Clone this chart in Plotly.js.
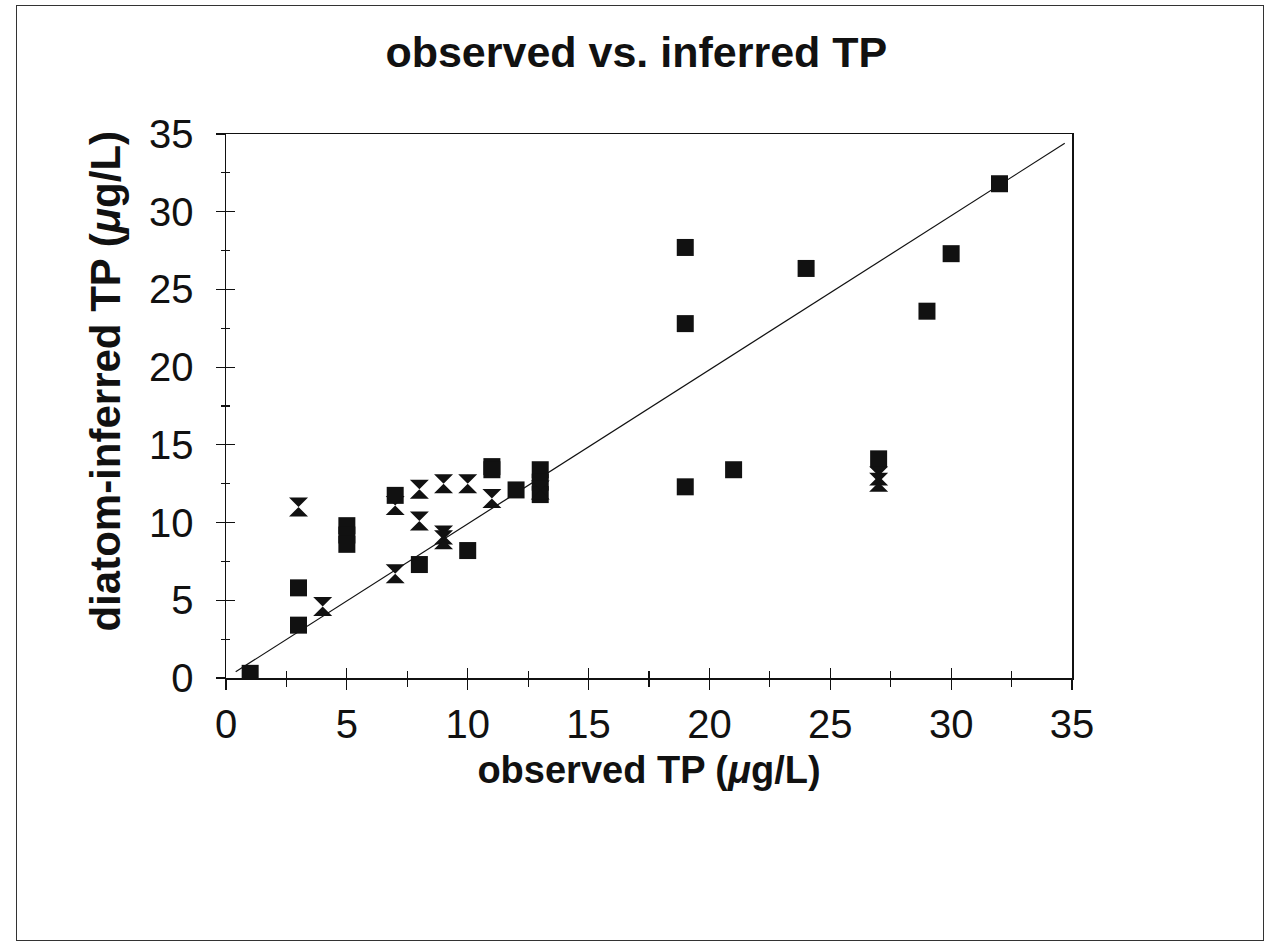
<!DOCTYPE html>
<html>
<head>
<meta charset="utf-8">
<script src="https://cdn.plot.ly/plotly-3.0.1.min.js"></script>
<style>
  html, body { margin: 0; padding: 0; background: #fff; }
  #wrap { position: relative; width: 1267px; height: 944px; }
  #chart { position: absolute; left: 0; top: 0; width: 1267px; height: 944px; }
  #frame { position: absolute; left: 16px; top: 5px; width: 1246px; height: 934px;
           border: 1.5px solid #333; pointer-events: none; }
</style>
</head>
<body>
<div id="wrap">
  <div id="chart"></div>
  <div id="frame"></div>
</div>
<script>
// Observed vs. diatom-inferred TP (µg/L)
const squareObserved = [1, 3, 3, 5, 5, 5, 7, 8, 10, 11, 11, 12, 13, 13, 13, 19, 19, 19, 21, 24, 27, 29, 30, 32];
const squareInferred = [0.3, 5.8, 3.4, 9.8, 9.2, 8.6, 11.75, 7.3, 8.2, 13.6, 13.4, 12.1, 13.4, 12.6, 11.8, 27.7, 22.8, 12.3, 13.4, 26.35, 14.1, 23.6, 27.3, 31.8];

const hourglassObserved = [3, 4, 7, 7, 8, 8, 9, 9, 9, 10, 11, 13, 27, 27];
const hourglassInferred = [11.0, 4.6, 11.1, 6.7, 12.15, 10.1, 12.5, 9.2, 8.9, 12.5, 11.55, 12.1, 13.0, 12.6];

const lineObserved = [0.4, 34.7];
const lineInferred = [0.4, 34.4];

const axisTicks = [0, 5, 10, 15, 20, 25, 30, 35];
const minorTicks = [2.5, 7.5, 12.5, 17.5, 22.5, 27.5, 32.5];

const titleText = 'observed vs. inferred TP';
const xTitleText = 'observed TP (<i>μ</i>g/L)';
const yTitleText = 'diatom-inferred TP (<i>μ</i>g/L)';

const FONT = 'Liberation Sans, Arial, sans-serif';
const INK = '#111111';

const traces = [
  {
    x: lineObserved, y: lineInferred, type: 'scatter', mode: 'lines',
    line: { color: INK, width: 1.2 }, hoverinfo: 'skip', showlegend: false
  },
  {
    x: squareObserved, y: squareInferred, type: 'scatter', mode: 'markers',
    marker: { symbol: 'square', size: 17, color: INK, line: { width: 0 } },
    showlegend: false
  },
  {
    x: hourglassObserved, y: hourglassInferred, type: 'scatter', mode: 'markers',
    marker: { symbol: 'hourglass', size: 19, color: INK, line: { width: 0 } },
    showlegend: false
  },
  {
    x: [], y: [], xaxis: 'x2', yaxis: 'y2', type: 'scatter', mode: 'markers',
    hoverinfo: 'skip', showlegend: false
  }
];

const baseAxis = {
  range: [0, 35], autorange: false, tickmode: 'array', tickvals: axisTicks,
  showgrid: false, zeroline: false
};

const layout = {
  width: 1267, height: 944,
  paper_bgcolor: '#ffffff', plot_bgcolor: '#ffffff',
  margin: { l: 226, r: 195, t: 134, b: 266 },
  font: { family: FONT, color: INK },
  title: {
    text: titleText, font: { family: FONT, size: 43, weight: 'bold', color: INK },
    x: 0.485, xref: 'paper', xanchor: 'center', y: 0.945, yref: 'container', yanchor: 'middle'
  },
  xaxis: Object.assign({}, baseAxis, {
    ticks: 'outside', ticklen: 10, tickwidth: 1.2, tickcolor: INK,
    minor: { tickmode: 'array', tickvals: minorTicks, ticks: 'outside', ticklen: 7, tickwidth: 1.2, tickcolor: INK },
    showline: true, linecolor: INK, linewidth: 1.5, mirror: true,
    tickfont: { family: FONT, size: 40, color: INK }, ticklabelstandoff: 0,
    title: { text: xTitleText, font: { family: FONT, size: 38, weight: 'bold', color: INK }, standoff: 12 }
  }),
  yaxis: Object.assign({}, baseAxis, {
    ticks: 'outside', ticklen: 9, tickwidth: 1.2, tickcolor: INK,
    minor: { tickmode: 'array', tickvals: minorTicks, ticks: 'outside', ticklen: 4, tickwidth: 1.2, tickcolor: INK },
    showline: true, linecolor: INK, linewidth: 1.5, mirror: true,
    tickfont: { family: FONT, size: 40, color: INK }, ticklabelstandoff: 14
  }),
  xaxis2: Object.assign({}, baseAxis, {
    overlaying: 'x', anchor: 'y', side: 'bottom',
    ticks: 'inside', ticklen: 10, tickwidth: 1.2, tickcolor: INK,
    minor: { tickmode: 'array', tickvals: minorTicks, ticks: 'inside', ticklen: 7, tickwidth: 1.2, tickcolor: INK },
    showticklabels: false, showline: false
  }),
  yaxis2: Object.assign({}, baseAxis, {
    overlaying: 'y', anchor: 'x', side: 'left',
    ticks: 'inside', ticklen: 9, tickwidth: 1.2, tickcolor: INK,
    minor: { tickmode: 'array', tickvals: minorTicks, ticks: 'inside', ticklen: 4, tickwidth: 1.2, tickcolor: INK },
    showticklabels: false, showline: false
  }),
  annotations: [
    {
      text: yTitleText, textangle: -90, xref: 'paper', yref: 'paper',
      x: -0.143, y: 0.545, xanchor: 'center', yanchor: 'middle', showarrow: false,
      font: { family: FONT, size: 42, weight: 'bold', color: INK }
    }
  ]
};

Plotly.newPlot('chart', traces, layout, { staticPlot: true, displayModeBar: false });
</script>
</body>
</html>
